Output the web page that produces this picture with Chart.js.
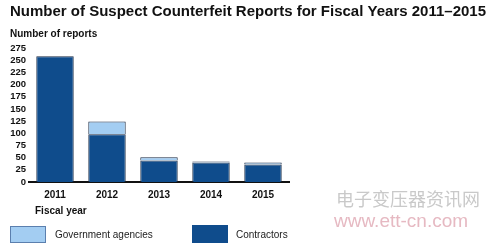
<!DOCTYPE html>
<html>
<head>
<meta charset="utf-8">
<script src="https://cdn.jsdelivr.net/npm/chart.js@4"></script>
<style>
  html, body { margin: 0; padding: 0; background: #fff; }
  #wrap { position: relative; width: 503px; height: 248px; }
</style>
</head>
<body>
<div id="wrap"><canvas id="reportsChart" width="503" height="248"></canvas></div>
<script>
const years = ["2011", "2012", "2013", "2014", "2015"];
const contractors = [258, 98, 44, 40, 36];
const governmentAgencies = [0, 26, 7, 2, 4];
const yTicks = [0, 25, 50, 75, 100, 125, 150, 175, 200, 225, 250, 275];

const darkBlue = "#0f4c8c";
const lightBlue = "#a3cdf2";
const font = "'Liberation Sans', Arial, sans-serif";

// Title, axis titles, legend and watermark text drawn on the canvas
const extras = {
    id: "extras",
    afterDraw(chart) {
        const ctx = chart.ctx;
        ctx.save();
        ctx.textBaseline = "middle";
        ctx.textAlign = "left";
        ctx.fillStyle = "#111";

        ctx.font = "bold 15px " + font;
        ctx.fillText("Number of Suspect Counterfeit Reports for Fiscal Years 2011\u20132015", 10, 12);

        ctx.font = "bold 10px " + font;
        ctx.fillText("Number of reports", 10, 34);
        ctx.fillText("Fiscal year", 35, 211);

        // legend
        ctx.fillStyle = lightBlue;
        ctx.fillRect(10, 226, 36, 17);
        ctx.strokeStyle = "#5b7fae";
        ctx.lineWidth = 1;
        ctx.strokeRect(10.5, 226.5, 35, 16);
        ctx.fillStyle = darkBlue;
        ctx.fillRect(192, 225, 36, 18);

        ctx.fillStyle = "#222";
        ctx.font = "10px " + font;
        ctx.fillText("Government agencies", 55, 235);
        ctx.fillText("Contractors", 236, 235);

        // watermark
        ctx.fillStyle = "#c9c9c9";
        ctx.font = "18px 'Noto Sans CJK SC', sans-serif";
        ctx.fillText("电子变压器资讯网", 336, 199);
        ctx.fillStyle = "#e6b9c2";
        ctx.font = "19px " + font;
        ctx.fillText("www.ett-cn.com", 334, 222);
        ctx.restore();
    }
};

const ctx = document.getElementById("reportsChart").getContext("2d");

new Chart(ctx, {
    type: "bar",
    data: {
        labels: years,
        datasets: [
            {
                label: "Contractors",
                data: contractors,
                backgroundColor: darkBlue,
                borderColor: "#1b2b44",
                borderWidth: 1
            },
            {
                label: "Government agencies",
                data: governmentAgencies,
                backgroundColor: lightBlue,
                borderColor: "#1b2b44",
                borderWidth: 1
            }
        ]
    },
    options: {
        responsive: false,
        animation: false,
        layout: {
            padding: { left: 0, right: 214, top: 48, bottom: 36 }
        },
        datasets: {
            bar: { categoryPercentage: 1, barPercentage: 0.72 }
        },
        scales: {
            x: {
                stacked: true,
                grid: { display: false, drawTicks: false },
                border: { display: true, color: "#111", width: 2 },
                ticks: {
                    color: "#111",
                    padding: 7,
                    font: { family: font, size: 10, weight: "bold" }
                },
                afterFit(scale) { scale.height = 30; }
            },
            y: {
                stacked: true,
                min: 0,
                max: 275,
                grid: { display: false, drawTicks: false },
                border: { display: false },
                afterBuildTicks(scale) {
                    scale.ticks = yTicks.map(v => ({ value: v }));
                },
                ticks: {
                    color: "#111",
                    padding: 3,
                    autoSkip: false,
                    font: { family: font, size: 9.5, weight: "bold" }
                },
                afterFit(scale) { scale.width = 29; }
            }
        },
        plugins: {
            legend: { display: false },
            title: { display: false },
            tooltip: { enabled: false }
        }
    },
    plugins: [extras]
});
</script>
</body>
</html>
